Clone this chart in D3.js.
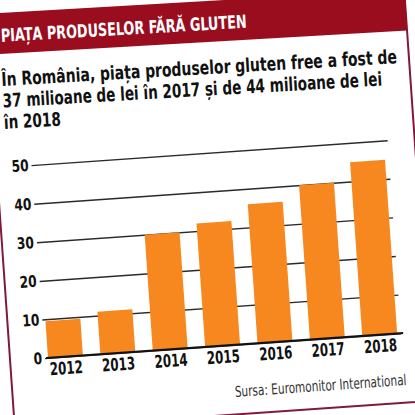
<!DOCTYPE html>
<html>
<head>
<meta charset="utf-8">
<script src="https://cdn.jsdelivr.net/npm/d3@7"></script>
<style>
body{margin:0;background:#fff;}
svg{display:block;}
</style>
</head>
<body>
<div id="chart"></div>
<script>
'use strict';

// data
var years = ['2012', '2013', '2014', '2015', '2016', '2017', '2018'];
var values = [9.5, 11, 30, 32, 36, 40, 45];
var yTicks = [0, 10, 20, 30, 40, 50];
var title = 'PIAȚA PRODUSELOR FĂRĂ GLUTEN';
var subtitle = [
	'În România, piața produselor gluten free a fost de',
	'37 milioane de lei în 2017 și de 44 milioane de lei',
	'în 2018'
];
var source = 'Sursa: Euromonitor International';

//configuration
var width = 415,
	height = 415,
	condensed = '"Liberation Sans Narrow","DejaVu Sans Condensed","Open Sans",sans-serif',
	red = '#990d1f',
	frame = '#7f1a3a',
	orange = '#f7881f';

var svg = d3.select('#chart')
	.append('svg')
		.attr('width', width)
		.attr('height', height);

// the chart body is tilted like the photo
var body = svg.append('g')
	.attr('transform', 'rotate(-4,47,358)');

var x = d3.scaleBand()
	.domain(years)
	.range([48, 398])
	.paddingInner(1 / 3)
	.paddingOuter(0);

var y = d3.scaleLinear()
	.domain([0, 50])
	.range([358, 164.5]);

body.append('path')
	.attr('d', 'M10,-200V427.5H429V-200')
	.attr('fill', 'none')
	.attr('stroke', frame)
	.attr('stroke-width', 2);

var yAxis = body.append('g')
	.attr('transform', 'translate(45,0)')
	.call(d3.axisLeft(y).tickValues(yTicks).tickSize(-357).tickPadding(3));
yAxis.select('.domain').remove();
yAxis.selectAll('line')
	.attr('stroke', '#2a2a2a')
	.attr('stroke-width', 1.4);
yAxis.selectAll('text')
	.attr('font-family', condensed)
	.attr('font-weight', 'bold')
	.attr('font-size', 16)
	.attr('fill', '#111')
	.attr('textLength', function(d){ return String(d).length * 8.5; })
	.attr('lengthAdjust', 'spacingAndGlyphs');

body.selectAll('.bar')
	.data(values)
	.enter()
	.append('rect')
		.attr('class', 'bar')
		.attr('x', function(d, i){ return x(years[i]); })
		.attr('y', function(d){ return y(d); })
		.attr('width', x.bandwidth())
		.attr('height', function(d){ return y(0) - y(d); })
		.attr('fill', orange);

var xAxis = body.append('g')
	.attr('transform', 'translate(0,' + y(0) + ')')
	.call(d3.axisBottom(x).tickSize(0).tickPadding(5));
xAxis.select('.domain').remove();
xAxis.selectAll('text')
	.attr('font-family', condensed)
	.attr('font-weight', 'bold')
	.attr('font-size', 17.5)
	.attr('fill', '#111')
	.attr('textLength', 33)
	.attr('lengthAdjust', 'spacingAndGlyphs');

body.append('line')
	.attr('x1', 46)
	.attr('x2', 404)
	.attr('y1', y(0))
	.attr('y2', y(0))
	.attr('stroke', '#111')
	.attr('stroke-width', 2);

body.append('text')
	.attr('x', 232)
	.attr('y', 410)
	.attr('textLength', 172)
	.attr('lengthAdjust', 'spacingAndGlyphs')
	.attr('font-family', condensed)
	.attr('font-size', 15)
	.attr('fill', '#333')
	.text(source);

// header, a little less tilted
var head = svg.append('g')
	.attr('transform', 'rotate(-3.3,0,55)');

head.append('rect')
	.attr('x', -40)
	.attr('y', 13)
	.attr('width', 448)
	.attr('height', 41)
	.attr('fill', red);

head.append('text')
	.attr('x', 2)
	.attr('y', 42)
	.attr('textLength', 246)
	.attr('lengthAdjust', 'spacingAndGlyphs')
	.attr('font-family', condensed)
	.attr('font-weight', 'bold')
	.attr('font-size', 18)
	.attr('fill', '#fff')
	.text(title);

var lineLengths = [396, 380, 57];
head.selectAll('.sub')
	.data(subtitle)
	.enter()
	.append('text')
		.attr('class', 'sub')
		.attr('x', 0)
		.attr('y', function(d, i){ return 86 + i * 21.5; })
		.attr('textLength', function(d, i){ return lineLengths[i]; })
		.attr('lengthAdjust', 'spacingAndGlyphs')
		.attr('font-family', condensed)
		.attr('font-weight', 'bold')
		.attr('font-size', 19)
		.attr('fill', '#111')
		.text(function(d){ return d; });
</script>
</body>
</html>
